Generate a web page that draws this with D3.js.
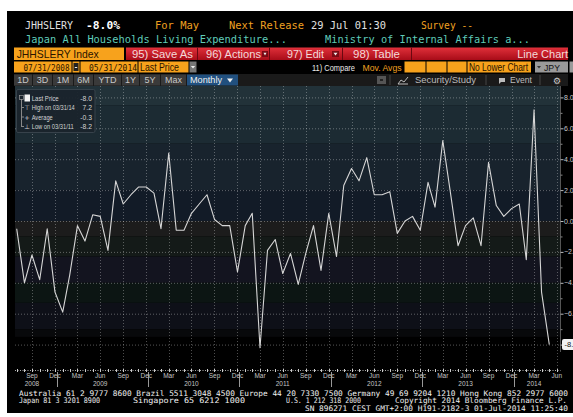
<!DOCTYPE html>
<html><head><meta charset="utf-8">
<script src="https://cdn.jsdelivr.net/npm/d3@7"></script>
<style>html,body{margin:0;padding:0;background:#fff;overflow:hidden}</style>
</head><body><svg id="c" width="573" height="417"></svg>
<script>
// ---------- DATA ----------
const startYear = 2008, startMonth = 6; // July 2008 (0-based month)
const values = [
  -0.5, -4.0, -2.2, -3.8, -0.5, -4.6, -5.9, -3.5, -0.3, -1.3, 0.4, 0.3,
  -1.9, 2.6, 1.1, 1.7, 2.2, 2.2, 1.8, -0.5, 4.4, -0.6, -0.6, 0.5,
  1.1, 1.7, 0.1, -0.3, -0.3, -3.3, -0.3, 0.5, -8.2, -1.9, -1.2, -3.4,
  -2.1, -4.1, -2.1, -0.3, -3.2, 0.5, -2.3, 2.3, 3.4, 2.6, 4.1, 1.7,
  1.7, 1.9, -0.8, 0.0, 0.3, -0.6, 2.5, 0.9, 5.2, 1.9, -1.6, -0.3,
  0.2, -1.6, 3.8, 1.0, 0.3, 0.8, 1.1, -2.5, 7.2, -4.6, -8.0
];
const yTicks = [8, 6, 4, 2, 0, -2, -4, -6, -8];
const yMinorTicks = [7, 5, 3, 1, -1, -3, -5, -7];
const tickMonthNames = ["Mar", "Jun", "Sep", "Dec"];
const legendRows = [
  ["Last Price", "-8.0"],
  ["High on 03/31/14", "7.2"],
  ["Average", "-0.3"],
  ["Low on 03/31/11", "-8.2"]
];
const lastLabel = "-8.0";
const periodButtons = ["1D", "3D", "1M", "6M", "YTD", "1Y", "5Y", "Max"];
const footer1 = "Australia 61 2 9777 8600 Brazil 5511 3048 4500 Europe 44 20 7330 7500 Germany 49 69 9204 1210 Hong Kong 852 2977 6000";
const footer2 = ["Japan 81 3 3201 8900", "Singapore 65 6212 1000", "U.S. 1 212 318 2000", "Copyright 2014 Bloomberg Finance L.P."];
const footer3 = "SN 896271 CEST GMT+2:00 H191-2182-3 01-Jul-2014 11:25:40";

// ---------- SETUP ----------
const svg = d3.select("#c");
const MONO = "'DejaVu Sans Mono', 'Liberation Mono', monospace";
const NARROW = "'Liberation Sans Narrow', 'Liberation Sans', Arial, sans-serif";
const ORANGE = "#f0a020", TEAL = "#5fcbb8";

const dates = values.map((v, k) => new Date(Date.UTC(startYear, startMonth + k + 1, 0)));
const data = values.map((v, k) => ({date: dates[k], value: v}));

const PL = 15, PR = 560.5, PT = 86, AXY = 370;
const x = d3.scaleUtc().domain([dates[0], dates[dates.length - 1]]).range([16.7, 549.3]);
const y = d3.scaleLinear().domain([-8, 8]).range([344.6, 97.4]);

svg.append("rect").attr("width", 573).attr("height", 417).attr("fill", "#fff");
svg.append("rect").attr("x", 7).attr("y", 11).attr("width", 566).attr("height", 402).attr("fill", "#000");

function txt(s, xx, yy, o) {
  o = o || {};
  const t = svg.append("text").attr("x", xx).attr("y", yy).text(s)
    .attr("font-family", o.font || MONO).attr("font-size", o.size || 10)
    .attr("fill", o.fill || "#ddd");
  if (o.bold) t.attr("font-weight", "bold");
  if (o.anchor) t.attr("text-anchor", o.anchor);
  if (o.len) t.attr("textLength", o.len).attr("lengthAdjust", "spacingAndGlyphs");
  return t;
}

// ---------- HEADER ----------
txt("JHHSLERY", 25, 29, {fill: "#e0e0e0", len: 48, size: 10.5});
txt("-8.0%", 86, 29, {fill: "#fff", bold: true, len: 34, size: 10.5});
txt("For May", 155, 29, {fill: ORANGE, len: 44, size: 10.5});
txt("Next Release", 229, 29, {fill: ORANGE, len: 75, size: 10.5});
txt("29 Jul 01:30", 311, 29, {fill: "#e0e0e0", len: 75, size: 10.5});
txt("Survey --", 421, 29, {fill: ORANGE, len: 52, size: 10.5});
txt("Japan All Households Living Expenditure...", 25, 43, {fill: TEAL, len: 262, size: 10.5});
txt("Ministry of Internal Affairs a...", 325, 43, {fill: TEAL, len: 205, size: 10.5});

// row 3
const defs = svg.append("defs");
const rg = defs.append("linearGradient").attr("id", "red").attr("x1", 0).attr("x2", 0).attr("y1", 0).attr("y2", 1);
rg.append("stop").attr("offset", 0).attr("stop-color", "#e0303a");
rg.append("stop").attr("offset", 1).attr("stop-color", "#a80c18");
svg.append("rect").attr("x", 14).attr("y", 47.5).attr("width", 110).attr("height", 12.5).attr("fill", "#f7a21c");
txt("JHHSLERY Index", 16.7, 57.8, {font: NARROW, size: 11.5, fill: "#2a1400", len: 82});
svg.append("rect").attr("x", 126).attr("y", 47.5).attr("width", 442).attr("height", 12.5).attr("fill", "url(#red)");
[197.5, 269.5, 342.5, 411.5].forEach(s => svg.append("line").attr("x1", s).attr("x2", s).attr("y1", 47.5).attr("y2", 60).attr("stroke", "#6a0810"));
txt("95) Save As", 132, 57.8, {font: NARROW, size: 11, fill: "#f4dada", len: 61});
txt("96) Actions", 206, 57.8, {font: NARROW, size: 11, fill: "#f4dada", len: 55});
txt("97) Edit", 287, 57.8, {font: NARROW, size: 11, fill: "#f4dada", len: 37});
txt("98) Table", 353, 57.8, {font: NARROW, size: 11, fill: "#f4dada", len: 47});
txt("Line Chart", 568, 57.8, {font: NARROW, size: 11, fill: "#f4dada", anchor: "end"});
[[262, 268], [332, 339]].forEach(b => {
  svg.append("rect").attr("x", b[0]).attr("y", 51).attr("width", b[1] - b[0]).attr("height", 6).attr("fill", "#7a0a14");
  svg.append("path").attr("d", `M${b[0] + 1.5},52.8 L${b[1] - 1.5},52.8 L${(b[0] + b[1]) / 2},55.5 Z`).attr("fill", "#eee");
});

// row 4
function obox(x0, x1, fill) {
  svg.append("rect").attr("x", x0).attr("y", 61.5).attr("width", x1 - x0).attr("height", 11).attr("fill", fill || "#f7a21c");
}
obox(14, 71.5); obox(72.5, 79.5, "#f7a21c"); obox(80.5, 137.5); obox(138.5, 188.5);
svg.append("rect").attr("x", 73.5).attr("y", 63).attr("width", 5).attr("height", 8).attr("fill", "#222");
svg.append("line").attr("x1", 74.8).attr("x2", 77.2).attr("y1", 67.5).attr("y2", 67.5).attr("stroke", "#eee");
svg.append("rect").attr("x", 189.5).attr("y", 61.5).attr("width", 7).attr("height", 11).attr("fill", "#777");
svg.append("path").attr("d", "M190.8,66 L195.2,66 L193,68.6 Z").attr("fill", "#eee");
txt("07/31/2008", 23.5, 70.5, {size: 9, fill: "#2a1400", len: 46});
txt("05/31/2014", 89, 70.5, {size: 9, fill: "#2a1400", len: 48});
txt("Last Price", 140, 70.5, {font: NARROW, size: 10, fill: "#2a1400", len: 39});
txt("11) Compare", 312, 70.5, {font: NARROW, size: 9.5, fill: "#e8e8e8", len: 43});
txt("Mov. Avgs", 362.5, 70.5, {font: NARROW, size: 9.5, fill: ORANGE, len: 39});
obox(404.5, 425.5); obox(426.5, 446.5); obox(447.5, 466.5); obox(467.5, 531);
txt("No Lower Chart", 469, 70.5, {font: NARROW, size: 10, fill: "#2a1400", len: 59});
svg.append("rect").attr("x", 535).attr("y", 61.5).attr("width", 33).attr("height", 11).attr("fill", "#9a9a9a");
svg.append("rect").attr("x", 569.5).attr("y", 61.5).attr("width", 4).attr("height", 11).attr("fill", "#9a9a9a");
svg.append("path").attr("d", "M537,66 L541,66 L539,68.5 Z").attr("fill", "#333");
txt("JPY", 544, 70.5, {font: NARROW, size: 9.5, fill: "#111", len: 16});

// row 5
svg.append("rect").attr("x", 14).attr("y", 74).attr("width", 554).attr("height", 12).attr("fill", "#1a1a1a");
const btnEdges = [[14, 32], [33, 52], [53, 73], [74, 93], [94, 121], [122, 139], [140, 160], [161, 186]];
periodButtons.forEach((b, i) => {
  const e = btnEdges[i];
  svg.append("rect").attr("x", e[0]).attr("y", 74.5).attr("width", e[1] - e[0]).attr("height", 11).attr("fill", "#3a3a3a");
  txt(b, (e[0] + e[1]) / 2, 83.3, {font: NARROW, size: 9, fill: "#c8c8c8", anchor: "middle"});
});
svg.append("rect").attr("x", 187).attr("y", 74.5).attr("width", 51).attr("height", 11).attr("fill", "#21507f");
txt("Monthly", 190, 83.3, {font: NARROW, size: 9.5, fill: "#f0f0f0", len: 32});
svg.append("path").attr("d", "M227,78.5 L233,78.5 L230,82.5 Z").attr("fill", "#f0f0f0");
svg.append("rect").attr("x", 377).attr("y", 76).attr("width", 9).attr("height", 8).attr("fill", "#555");
svg.append("rect").attr("x", 380).attr("y", 79).attr("width", 3).attr("height", 2).attr("fill", "#222");
[390, 486, 540].forEach(s => svg.append("line").attr("x1", s).attr("x2", s).attr("y1", 75).attr("y2", 85).attr("stroke", "#444"));
svg.append("path").attr("d", "M398,84 L401,80 L404,82 L408,77 M398,84 L408,84").attr("stroke", "#bbb").attr("fill", "none").attr("stroke-width", 1);
txt("Security/Study", 415, 83.3, {font: NARROW, size: 9.5, fill: "#bbb", len: 61});
svg.append("path").attr("d", "M499,78 L505,78 L505,82 L501,82 L499,84 Z").attr("fill", "#bbb");
txt("Event", 510, 83.3, {font: NARROW, size: 9.5, fill: "#bbb", len: 22});
txt("⚙", 557, 84, {font: "'DejaVu Sans', sans-serif", size: 9, fill: "#ccc", anchor: "middle"});

// ---------- PLOT BACKGROUND BANDS ----------
const bandStops = [
  [99, 7.5, "#223239"], [7.5, 5, "#1c2b33"], [5, 2, "#18232d"], [2, 0, "#121b27"],
  [0, -1, "#1c1c1c"], [-1, -2.3, "#141a18"], [-2.3, -4, "#13141f"], [-4, -5.3, "#0c1513"],
  [-5.3, -7, "#0e1018"], [-7, -7.5, "#08090b"]
];
const plotG = svg.append("g");
plotG.append("rect").attr("x", PL).attr("y", PT).attr("width", PR - PL).attr("height", AXY - PT).attr("fill", "#000");
bandStops.forEach(b => {
  const y0 = Math.max(PT, y(b[0])), y1 = y(b[1]);
  plotG.append("rect").attr("x", PL).attr("y", y0).attr("width", PR - PL).attr("height", y1 - y0).attr("fill", b[2]);
});

// quarter tick dates
const qTicks = [];
for (let yy = startYear; yy <= 2014; yy++) {
  for (let m = 0; m < 12; m++) {
    const d = new Date(Date.UTC(yy, m + 1, 0));
    const nm = d3.utcFormat("%b")(d);
    if (tickMonthNames.includes(nm) && x(d) >= PL && x(d) <= PR) qTicks.push(d);
  }
}
const mTicks = [];
for (let k = -1; k < values.length + 2; k++) {
  const d = new Date(Date.UTC(startYear, startMonth + k + 1, 0));
  if (x(d) >= PL && x(d) <= PR) mTicks.push(d);
}

// grid
plotG.selectAll(".hg").data(yTicks).join("line")
  .attr("x1", PL).attr("x2", PR).attr("y1", d => y(d) + 0.5).attr("y2", d => y(d) + 0.5)
  .attr("stroke", "rgba(255,255,255,0.33)").attr("stroke-dasharray", "1,2");
plotG.selectAll(".vg").data(qTicks).join("line")
  .attr("x1", d => Math.round(x(d)) + 0.5).attr("x2", d => Math.round(x(d)) + 0.5).attr("y1", PT).attr("y2", AXY)
  .attr("stroke", "rgba(255,255,255,0.3)").attr("stroke-dasharray", "1,2");

// right axis
const ax = svg.append("g");
ax.append("line").attr("x1", PR).attr("x2", PR).attr("y1", PT).attr("y2", 352).attr("stroke", "#555");
yTicks.forEach(t => {
  ax.append("line").attr("x1", PR).attr("x2", PR + 3).attr("y1", y(t) + 0.5).attr("y2", y(t) + 0.5).attr("stroke", "#bbb");
  if (t !== -8) txt(d3.format(".1f")(t), PR + 3.5, y(t) + 2.5, {font: NARROW, size: 7, fill: "#c8c8c8"});
});
yMinorTicks.forEach(t => {
  ax.append("line").attr("x1", PR).attr("x2", PR + 2).attr("y1", y(t) + 0.5).attr("y2", y(t) + 0.5).attr("stroke", "#888");
});

// x axis
ax.append("line").attr("x1", PL).attr("x2", PR).attr("y1", AXY + 0.5).attr("y2", AXY + 0.5)
  .attr("stroke", "#aaa").attr("stroke-dasharray", "1,1.5");
mTicks.forEach(d => {
  const xx = Math.round(x(d)) + 0.5;
  ax.append("line").attr("x1", xx).attr("x2", xx).attr("y1", AXY - 1).attr("y2", AXY + 2).attr("stroke", "#ccc");
});
qTicks.forEach(d => {
  txt(d3.utcFormat("%b")(d), x(d), 377.5, {font: NARROW, size: 6.5, fill: "#c4c4c4", anchor: "middle"});
  if (d3.utcFormat("%b")(d) === "Dec") {
    const xx = Math.round(x(d)) + 2.5;
    ax.append("line").attr("x1", xx).attr("x2", xx).attr("y1", 372).attr("y2", 387).attr("stroke", "#999");
  }
});
const years = d3.groups(qTicks, d => d.getUTCFullYear());
years.forEach(([yr, ds]) => {
  const d = ds[Math.floor((ds.length - 1) / 2)];
  txt(String(yr), x(d), 385.5, {font: NARROW, size: 6.5, fill: "#c4c4c4", anchor: "middle"});
});

// ---------- LINE ----------
const line = d3.line().x(d => x(d.date)).y(d => y(d.value));
svg.append("path").datum(data).attr("d", line).attr("fill", "none")
  .attr("stroke", "#d6d6d6").attr("stroke-width", 1.1).attr("stroke-linejoin", "round");

// last price tag
const ly = y(values[values.length - 1]);
svg.append("rect").attr("x", 562).attr("y", ly - 5.5).attr("width", 16).attr("height", 11).attr("rx", 2).attr("fill", "#f2f2f2");
txt(lastLabel, 564.5, ly + 2.5, {font: NARROW, size: 7.5, fill: "#111"});

// ---------- LEGEND ----------
const lg = svg.append("g");
lg.append("rect").attr("x", 16.5).attr("y", 89.5).attr("width", 78.5).attr("height", 43).attr("rx", 1.5)
  .attr("fill", "rgba(26,36,44,0.95)").attr("stroke", "#37424b");
const rowY = [101, 110, 119.5, 129];
const labelLen = [27, 43, 21, 42];
lg.append("line").attr("x1", 21.5).attr("x2", 21.5).attr("y1", 99).attr("y2", 127).attr("stroke", "#888");
lg.append("rect").attr("x", 19.5).attr("y", 95.5).attr("width", 4).attr("height", 4).attr("fill", "none").attr("stroke", "#999").attr("stroke-width", 0.7);
lg.append("rect").attr("x", 24.5).attr("y", 94.5).attr("width", 5.5).attr("height", 7).attr("fill", "#f4f4f4");
const glyphs = [null, "⊤", "+", "⊥"];
legendRows.forEach((r, i) => {
  txt(r[0], 31.7, rowY[i], {font: NARROW, size: 7, fill: "#d4d4d4", len: labelLen[i]});
  txt(r[1], 92, rowY[i], {font: NARROW, size: 6.8, fill: "#d4d4d4", anchor: "end"});
  if (glyphs[i]) {
    lg.append("line").attr("x1", 21.5).attr("x2", 24).attr("y1", rowY[i] - 2.5).attr("y2", rowY[i] - 2.5).attr("stroke", "#888");
    txt(glyphs[i], 27, rowY[i], {font: "'DejaVu Sans', sans-serif", size: 6.5, fill: "#d4d4d4", anchor: "middle"});
  }
});

// ---------- FOOTER ----------
txt(footer1, 19, 395.5, {size: 7.6, fill: "#f0f0f0", len: 549});
const f2x = [[19, 81], [133, 112], [286, 75], [395, 172]];
footer2.forEach((s, i) => txt(s, f2x[i][0], 403, {size: 7.6, fill: "#f0f0f0", len: f2x[i][1]}));
txt(footer3, 305, 411, {size: 7.6, fill: "#f0f0f0", len: 263});
</script></body></html>
